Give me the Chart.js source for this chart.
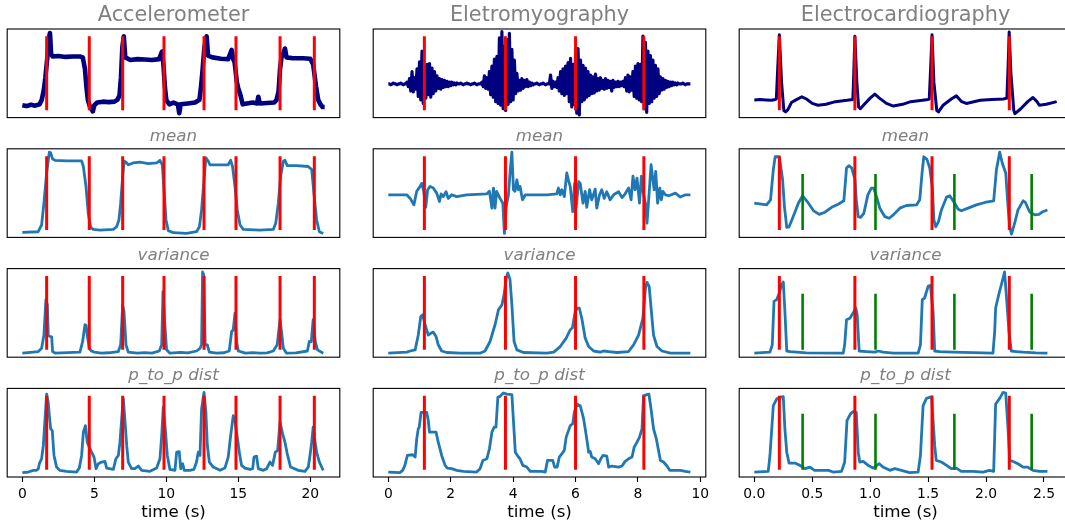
<!DOCTYPE html>
<html>
<head>
<meta charset="utf-8">
<script src="https://cdn.jsdelivr.net/npm/chart.js@4/dist/chart.umd.min.js"></script>
<style>
  html, body { margin: 0; padding: 0; background: #fff; overflow: hidden; }
  #fig { position: relative; width: 1065px; height: 524px; overflow: hidden; background: #fff; }
  #fig canvas { position: absolute; }
</style>
</head>
<body>
<div id="fig"></div>
<script>
// ---------- signals (time in s, amplitude in % of panel height) ----------

// raw accelerometer trace
const accRaw = [[0,14],[0.3,13],[0.6,14.5],[0.9,13.5],[1.2,15],[1.35,20],[1.5,32],[1.6,45],[1.75,70],[1.85,90],[1.92,95.5],[2.0,72],[2.1,69],[2.5,69.5],[3.0,68.5],[3.5,69],[4.0,69],[4.2,68],[4.35,55],[4.45,35],[4.55,20],[4.7,12],[4.9,7],[5.0,14],[5.2,17],[5.6,18],[6.0,17.5],[6.4,18],[6.6,20],[6.75,25],[6.85,45],[6.95,80],[7.05,91.7],[7.15,68],[7.5,65],[8.0,66],[8.5,65.5],[9.0,65],[9.5,66],[9.7,74.6],[9.8,60],[9.9,35],[10.0,20],[10.2,15],[10.5,17],[10.8,15],[10.9,5],[11.0,15],[11.5,16],[12.0,17],[12.3,20],[12.4,33],[12.5,50],[12.65,80],[12.8,91.7],[12.9,70],[13.2,68],[13.8,66.5],[14.3,66],[14.54,76.5],[14.65,66],[14.75,62],[14.9,40],[15.0,33],[15.16,25],[15.3,15],[15.6,16],[16.0,17],[16.3,16],[16.39,23.5],[16.5,16],[17.0,16.5],[17.5,17],[17.66,20],[17.8,30],[17.9,55],[18.0,68],[18.1,71],[18.24,78],[18.35,68],[18.8,67],[19.5,67],[20.0,66.5],[20.2,60],[20.4,35],[20.55,20],[20.7,15],[20.85,12],[21.0,12]];

// raw EMG trace, sampled every emgRawStep seconds
const emgRawStep = 0.04;
const emgRaw = [
  38,38,37,38,39,38,38,37,38,38,39,38,37,38,38,
  40,35,44,30,52,29,45,32,55,24,63,20,75,16,58,22,60,26,61,23,56,27,52,30,47,33,44,32,43,34,42,35,41,35,40,36,40,37,39,37,39,38,
  38,39,38,37,38,38,39,38,38,37,38,38,39,38,37,38,38,38,
  40,35,47,33,45,32,52,26,58,23,66,18,69,16,90,14,97,10,80,8,88,15,95,18,77,20,65,27,50,30,42,31,44,33,42,35,43,35,40,36,39,37,
  38,38,39,38,37,38,38,39,38,37,38,38,38,
  48,33,41,35,40,34,45,30,52,27,55,25,58,27,62,18,67,12,60,15,70,5,78,3,65,18,59,20,56,23,52,25,48,27,46,28,49,30,44,31,45,33,42,32,44,33,42,34,41,30,42,34,40,35,41,35,40,36,41,
  35,45,30,48,29,46,31,52,24,58,22,61,20,60,18,92,10,85,6,75,16,70,18,65,22,59,24,55,27,46,31,44,32,42,34,41,35,40,36,40,37,39,37,39,38,
  38,38,39,38,37,38,38,38,38
];

// raw ECG trace
const ecgRaw = [[0,20],[0.05,20.5],[0.1,20],[0.15,19.5],[0.18,20.5],[0.19,21],[0.2,50],[0.216,93.6],[0.235,40],[0.255,8],[0.27,6.5],[0.29,9],[0.32,17],[0.36,20],[0.41,23.5],[0.45,21],[0.5,16],[0.55,14],[0.62,15],[0.7,18],[0.8,19.5],[0.85,20.5],[0.855,35],[0.868,91.7],[0.885,40],[0.9,12],[0.915,10],[0.95,15],[1.0,22],[1.04,26.5],[1.08,22],[1.14,16],[1.2,13],[1.28,15],[1.35,18],[1.45,19.5],[1.5,20.5],[1.51,21],[1.52,50],[1.534,93.6],[1.55,40],[1.575,8],[1.59,6.4],[1.63,14],[1.7,21],[1.744,24.5],[1.79,18],[1.83,16],[1.95,19.5],[2.05,20.5],[2.15,21],[2.18,22],[2.19,55],[2.2,96.6],[2.215,50],[2.24,8],[2.25,4.5],[2.3,10],[2.36,18],[2.405,22.7],[2.44,18],[2.46,14],[2.52,15],[2.61,18]];

// features: mean
const accMean = [[0,5.7],[1.1,6.4],[1.34,14],[1.5,38.6],[1.69,72.7],[1.875,96.2],[1.97,95.5],[2.1,88.6],[2.27,87],[3.08,86.4],[4.12,86.4],[4.24,80],[4.42,57.6],[4.58,27],[4.75,11.4],[4.93,9],[5.4,8.3],[6.32,9],[6.55,12],[6.71,19.7],[6.83,38.6],[6.97,69],[7.08,86],[7.2,84.8],[7.36,82],[7.7,84],[8.17,85],[8.75,83.3],[9.33,84],[9.56,87],[9.72,82],[9.86,50],[9.98,19.7],[10.14,7.6],[10.49,5.3],[11.41,4.5],[12.1,6.4],[12.3,12],[12.45,31],[12.62,65],[12.75,89.8],[12.92,86],[13.03,82],[13.73,81.8],[14.3,82],[14.47,87],[14.6,80],[14.77,57.6],[14.93,31],[15.12,14],[15.35,9],[16.5,8.3],[17.43,9],[17.6,16],[17.78,38.6],[17.94,69],[18.13,86],[18.24,87],[18.4,81],[19.05,81],[19.86,80],[20.1,76.5],[20.25,50],[20.44,19.7],[20.63,6.4],[20.9,4.5]];
const emgMean = [[0,48.1],[0.59,48.1],[0.7,44],[0.82,36.7],[0.91,52],[1.02,57.6],[1.07,61],[1.13,53],[1.2,34],[1.26,53.8],[1.34,57.6],[1.44,55.7],[1.55,50],[1.64,40.5],[1.69,49],[1.76,46],[1.85,51.5],[1.92,44],[2.03,48.1],[2.19,46],[2.51,48.1],[3.16,49.2],[3.24,52],[3.32,33],[3.37,55.7],[3.42,33],[3.47,52],[3.58,44],[3.67,38.6],[3.72,4.5],[3.78,35],[3.85,48.1],[3.9,72.7],[3.96,96.2],[4.01,53.8],[4.06,52],[4.12,65],[4.17,53.8],[4.22,57.6],[4.3,42.4],[4.39,48.1],[5.08,48.1],[5.4,49.2],[5.45,55.7],[5.51,48.1],[5.56,53.8],[5.64,46],[5.72,72.7],[5.77,65],[5.83,57.6],[5.91,29],[5.97,61],[6.02,34],[6.1,63],[6.15,61],[6.24,38.6],[6.31,52],[6.36,34],[6.45,53.8],[6.52,42.4],[6.63,54.5],[6.68,33],[6.77,48.1],[6.84,53.8],[6.92,44],[7.0,51.5],[7.11,42.4],[7.22,48.1],[7.38,51.5],[7.49,45],[7.59,49.2],[7.7,55.7],[7.78,42.4],[7.84,69],[7.91,53.8],[7.97,67],[8.05,38.6],[8.11,69],[8.16,52],[8.24,38.6],[8.29,16],[8.35,45.5],[8.42,82],[8.48,65],[8.52,53.8],[8.57,74.6],[8.63,38.6],[8.7,55.7],[8.75,42.4],[8.8,52],[8.88,48.1],[8.99,47],[9.2,50],[9.36,45.5],[9.52,48.1],[9.68,48.1]];
const ecgMean = [[0,38.6],[0.106,36.7],[0.14,42.4],[0.164,76.5],[0.18,91],[0.216,91],[0.244,65],[0.26,34.8],[0.28,11.4],[0.3,12],[0.33,21.6],[0.38,38.6],[0.417,47],[0.457,40.5],[0.51,30.3],[0.56,26],[0.61,28.4],[0.667,34],[0.724,37.5],[0.773,41.3],[0.796,78.4],[0.816,81],[0.84,78.4],[0.868,66],[0.88,42.4],[0.897,23.5],[0.917,22.7],[0.945,27],[0.98,48],[1.01,55.7],[1.03,55.7],[1.055,46],[1.083,33],[1.126,23.5],[1.164,21.6],[1.2,25.4],[1.256,33],[1.313,36],[1.4,36.7],[1.428,42.4],[1.448,72.7],[1.463,91],[1.49,88],[1.514,78.4],[1.537,55.7],[1.55,19.7],[1.566,12],[1.59,17.8],[1.615,31],[1.66,45.5],[1.687,47],[1.72,40.5],[1.76,31.8],[1.787,30],[1.845,33],[1.917,36.7],[1.99,39.4],[2.066,41.3],[2.09,76.5],[2.118,96.2],[2.14,84],[2.17,72.7],[2.19,34.8],[2.204,12],[2.22,3.8],[2.247,16],[2.276,31],[2.32,41.3],[2.34,39.4],[2.376,29],[2.42,25.4],[2.457,26],[2.49,29],[2.53,31]];

// features: variance
const accVar = [[0,4.5],[1.11,6.4],[1.34,10],[1.5,25],[1.64,65],[1.74,59],[1.8,25],[1.92,23.4],[2.04,23],[2.1,6.4],[2.3,4.5],[4.0,5.7],[4.19,17.7],[4.35,36.6],[4.43,36],[4.51,25],[4.65,10],[4.8,7],[5.0,5.7],[5.5,4.5],[6.0,5],[6.67,6.4],[6.83,14],[6.97,59],[7.06,51.7],[7.2,14],[7.36,5.7],[8.0,4.5],[8.5,5.2],[9.0,4.5],[9.51,7],[9.68,14],[9.77,74],[9.9,36.6],[10.02,8.3],[10.25,4.5],[11.0,5.5],[11.5,4.8],[12.1,7],[12.34,10],[12.45,14],[12.52,96.2],[12.6,93],[12.7,14],[12.85,14],[12.99,5.7],[13.5,4.5],[14.0,5],[14.37,7],[14.54,29],[14.65,31],[14.77,49.8],[14.88,17.7],[15.0,7],[15.5,4.5],[16.0,5.2],[16.5,4.5],[17.0,4.8],[17.43,7],[17.7,14],[17.9,42.3],[18.0,29],[18.13,10],[18.35,4.5],[19.0,4.8],[19.8,7],[19.93,17.7],[20.07,17.7],[20.2,42.3],[20.35,17.7],[20.5,8.3],[20.9,4.5]];
const emgVar = [[0,4.5],[0.59,5.7],[0.7,7],[0.86,8.3],[0.96,25],[1.04,46],[1.1,47.9],[1.18,36.6],[1.28,25],[1.36,27],[1.44,28.3],[1.53,23.4],[1.6,14],[1.71,7],[1.87,5.3],[2.3,4.5],[2.94,4.5],[3.1,7],[3.26,17.7],[3.42,36.6],[3.53,53.6],[3.64,59],[3.71,70.6],[3.78,89.4],[3.83,95],[3.9,87.5],[3.96,59],[4.03,17.7],[4.12,8.3],[4.33,5.3],[5.08,4.5],[5.3,5.7],[5.51,12],[5.7,21.5],[5.83,31],[5.9,33],[5.99,51.7],[6.06,55.5],[6.12,55.5],[6.2,44],[6.31,21.5],[6.42,12],[6.58,7],[6.79,5.7],[6.9,7],[7.06,6.4],[7.33,5.3],[7.7,6.4],[7.86,14],[8.02,25],[8.16,44],[8.24,78],[8.29,84.5],[8.36,80],[8.43,51.7],[8.5,25],[8.61,12],[8.77,7],[9.04,4.5],[9.68,4.5]];
const ecgVar = [[0,4.5],[0.135,5.7],[0.155,14],[0.17,63],[0.193,65],[0.216,72.5],[0.236,81.9],[0.25,85],[0.264,51.7],[0.28,7],[0.31,6.4],[0.45,4.9],[0.767,4.5],[0.78,14],[0.796,42.3],[0.825,44],[0.853,49.8],[0.876,55.5],[0.888,47.9],[0.905,7],[0.968,6.4],[1.04,5.7],[1.07,7],[1.11,5.7],[1.2,4.5],[1.414,4.5],[1.434,14],[1.45,65],[1.47,66.8],[1.5,80],[1.52,81.1],[1.543,51.7],[1.557,7],[1.6,6.4],[1.716,5.7],[2.06,4.5],[2.075,29],[2.083,55.5],[2.11,70.6],[2.14,85.7],[2.16,96.2],[2.175,70.6],[2.198,29],[2.218,7],[2.26,6.4],[2.32,5.7],[2.43,4.9],[2.53,4.5]];

// features: peak-to-peak distance
const accP2p = [[0,4.9],[0.42,5.6],[0.76,7.5],[0.99,7.5],[1.11,9.4],[1.18,15],[1.34,20.6],[1.46,35.6],[1.57,63.7],[1.69,93.6],[1.8,84],[1.875,69.3],[1.97,54.3],[2.08,52.4],[2.2,24.3],[2.38,11.2],[2.6,7.5],[3.08,6.4],[3.77,5.6],[3.96,10.1],[4.12,24.3],[4.24,50.6],[4.38,58],[4.51,39.3],[4.65,33.7],[4.81,28],[4.98,22.5],[5.12,9.4],[5.28,15],[5.51,16.9],[5.74,17.6],[5.86,10.1],[6.32,8.6],[6.5,20.6],[6.67,24.3],[6.78,39.3],[6.9,65.5],[7.01,88.8],[7.13,63.7],[7.25,35.6],[7.36,16.9],[7.59,9.4],[7.82,9.4],[8.06,12.4],[8.29,7.5],[8.87,6.4],[9.33,10.1],[9.56,20.6],[9.68,46.8],[9.79,78.7],[9.93,54.3],[10.07,24.3],[10.25,8.6],[10.6,7.5],[10.72,28],[10.9,28.5],[11.0,9.4],[11.13,15],[11.25,7.5],[11.64,7.5],[11.92,8.6],[12.1,16.9],[12.22,28],[12.34,24.3],[12.45,76.8],[12.62,95.5],[12.75,73],[12.85,35.6],[12.99,16.9],[13.26,11.2],[13.73,7.5],[14.07,10.1],[14.3,22.5],[14.47,46.8],[14.65,69.3],[14.77,63.7],[14.93,45],[15.07,28],[15.23,13.1],[15.46,10.1],[15.81,8.6],[16.0,9.4],[16.09,22.5],[16.27,23.6],[16.39,9.4],[16.74,7.5],[16.97,9.4],[17.2,16.9],[17.38,13.1],[17.57,28],[17.73,29.9],[17.9,61.8],[18.08,48.7],[18.24,39.3],[18.4,26.2],[18.63,11.2],[19.17,7.5],[19.63,6.4],[19.86,11.2],[19.98,24.3],[20.1,39.3],[20.2,56.2],[20.32,41.2],[20.44,28],[20.63,16.9],[20.9,7.5]];
const emgP2p = [[0,5.6],[0.37,4.9],[0.46,7.5],[0.53,13.1],[0.61,24.3],[0.78,25.1],[0.86,22.5],[0.91,43],[0.96,54.3],[0.99,56.2],[1.05,73],[1.23,73],[1.28,63.7],[1.32,50.6],[1.53,50.6],[1.6,39.3],[1.71,24.3],[1.82,13.1],[1.89,10.1],[2.03,9.4],[2.19,7.5],[2.41,6.4],[2.83,5.6],[2.94,9.4],[3.03,18.7],[3.16,20.6],[3.24,31.8],[3.32,50.6],[3.39,56.2],[3.45,56.2],[3.51,89.9],[3.58,91],[3.69,94.8],[3.8,93.6],[3.96,92.9],[4.01,63.7],[4.07,28],[4.17,22.5],[4.22,20.6],[4.31,13.1],[4.44,11.2],[4.55,6.4],[4.92,6.4],[5.03,5.6],[5.1,18.7],[5.27,18.7],[5.33,11.2],[5.41,11.2],[5.48,22.5],[5.56,26.2],[5.64,30],[5.7,45],[5.83,58],[5.91,59.9],[5.96,73],[6.04,82.4],[6.15,80.5],[6.26,65.5],[6.36,43],[6.42,28],[6.47,28.8],[6.52,22.5],[6.63,20.6],[6.74,15],[6.81,20.6],[6.88,24.3],[7.0,23.6],[7.06,11.2],[7.17,12.4],[7.38,11.2],[7.49,12.4],[7.59,17.6],[7.7,20.6],[7.81,22.5],[7.88,33.7],[7.97,39.3],[8.05,45],[8.13,54.3],[8.18,91.8],[8.35,93.6],[8.42,76.8],[8.5,54.3],[8.59,43],[8.66,30],[8.72,18.7],[8.82,16.9],[8.93,12.4],[9.02,7.5],[9.36,7.5],[9.52,6.4],[9.68,5.6]];
const ecgP2p = [[0,5.6],[0.12,6.4],[0.135,24.3],[0.164,80.5],[0.193,88],[0.22,89.9],[0.25,90.6],[0.264,54.3],[0.28,28],[0.3,15.7],[0.35,15.7],[0.394,13.1],[0.437,9.4],[0.48,11.2],[0.52,7.5],[0.595,7.5],[0.64,7.5],[0.68,5.6],[0.753,6.4],[0.78,16.9],[0.8,63.7],[0.83,71.2],[0.853,73.8],[0.88,73],[0.897,28],[0.91,16.9],[0.94,17.6],[0.983,13.1],[1.026,10.1],[1.078,15],[1.11,11.2],[1.17,7.5],[1.213,9.4],[1.27,7.5],[1.34,4.9],[1.414,5.6],[1.434,24.3],[1.457,80.5],[1.486,88.8],[1.53,90.6],[1.557,35.6],[1.57,18.7],[1.615,16.9],[1.66,13.1],[1.7,9.4],[1.744,10.1],[1.787,6.4],[1.89,6.4],[1.974,5.6],[2.03,7.5],[2.066,6.4],[2.083,82.4],[2.118,88.8],[2.147,95.5],[2.17,94.8],[2.19,54.3],[2.204,18.7],[2.233,17.6],[2.276,15],[2.32,11.2],[2.36,11.2],[2.405,7.5],[2.46,6.4],[2.53,6.4]];

// detected events (s)
const accEvents = [1.69, 4.65, 6.97, 9.84, 12.62, 14.84, 17.9, 20.28];
const emgEvents = [1.155, 3.754, 6.0, 8.19];
const ecgEvents = [0.216, 0.868, 1.534, 2.201];
const ecgWaveEvents = [0.417, 1.046, 1.727, 2.394];
const eventLow = 8.3, eventHigh = 91.7, waveHigh = 71.5;

// axis ticks
const accTicks = [0, 5, 10, 15, 20];
const accTickLabels = ['0', '5', '10', '15', '20'];
const emgTicks = [0, 2, 4, 6, 8, 10];
const emgTickLabels = ['0', '2', '4', '6', '8', '10'];
const ecgTicks = [0, 0.5, 1, 1.5, 2, 2.5];
const ecgTickLabels = ['0.0', '0.5', '1.0', '1.5', '2.0', '2.5'];

const columnTitles = ['Accelerometer', 'Eletromyography', 'Electrocardiography'];
const rowTitles = ['mean', 'variance', 'p_to_p dist'];

// ---------- layout ----------
const COL_LEFT = [7.2, 373.2, 739.2];
const BOX_W = 332.6;
const ROW_TOP = [29.0, 148.8, 268.6, 388.4];
const BOX_H = 88.6;
const X_RANGE = [[-1.05, 22.05], [-0.4845, 10.1745], [-0.1305, 2.7405]];
const PAD_X = 20, PAD_TOP = 29, PAD_BOT = 6, AXIS_H = 46;

const NAVY = '#000080', BLUE = '#1f77b4', RED = '#ff0000', GREEN = '#008000', GRAY = '#808080';
Chart.defaults.font.family = '"DejaVu Sans", sans-serif';

function pts(pairs) { return pairs.map(p => ({ x: p[0], y: p[1] })); }
function sampled(vals, step) { return vals.map((v, i) => ({ x: Math.round(i * step * 1000) / 1000, y: v })); }
function vlines(ts, lo, hi) {
  const out = [];
  ts.forEach(t => { out.push({ x: t, y: lo }, { x: t, y: hi }, { x: t, y: null }); });
  return out;
}

const framePlugin = {
  id: 'frame',
  afterDraw(chart) {
    const { ctx, chartArea: a } = chart;
    ctx.save();
    ctx.strokeStyle = '#000';
    ctx.lineWidth = 1.1;
    ctx.strokeRect(a.left, a.top, a.right - a.left, a.bottom - a.top);
    ctx.restore();
  }
};
const panelTitlePlugin = {
  id: 'panelTitle',
  afterDraw(chart, args, opts) {
    const { ctx, chartArea: a } = chart;
    ctx.save();
    ctx.font = opts.font;
    ctx.fillStyle = opts.color;
    ctx.textAlign = 'center';
    ctx.textBaseline = 'alphabetic';
    ctx.fillText(opts.text, (a.left + a.right) / 2, a.top - opts.gap);
    ctx.restore();
  }
};

const fig = document.getElementById('fig');

function panel(row, col, signal, signalStyle, events, waves, ticks, tickLabels) {
  const left = COL_LEFT[col], top = ROW_TOP[row];
  const isBottom = row === 3;
  const cl = Math.floor(left - PAD_X), ct = Math.max(0, Math.floor(top - PAD_TOP));
  const cw = Math.ceil(left + BOX_W + PAD_X) - cl;
  const ch = Math.ceil(top + BOX_H + (isBottom ? AXIS_H : 0) + PAD_BOT) - ct;
  const canvas = document.createElement('canvas');
  canvas.width = cw; canvas.height = ch;
  canvas.style.left = cl + 'px'; canvas.style.top = ct + 'px';
  canvas.style.width = cw + 'px'; canvas.style.height = ch + 'px';
  fig.appendChild(canvas);

  const padLeft = left - cl, padTop = top - ct;
  const padRight = cw - padLeft - BOX_W;
  const padBottom = ch - padTop - BOX_H - (isBottom ? AXIS_H : 0);

  const datasets = [];
  datasets.push({ data: vlines(events, eventLow, eventHigh), borderColor: RED, borderWidth: 3, spanGaps: false });
  if (waves) datasets.push({ data: vlines(waves, eventLow, waveHigh), borderColor: GREEN, borderWidth: 2.6, spanGaps: false });
  datasets.push(Object.assign({ data: signal }, signalStyle));

  const xScale = {
    type: 'linear', min: X_RANGE[col][0], max: X_RANGE[col][1], display: isBottom
  };
  if (isBottom) {
    Object.assign(xScale, {
      afterBuildTicks: s => { s.ticks = ticks.map(v => ({ value: v })); },
      afterFit: s => { s.height = AXIS_H; },
      grid: { display: true, drawOnChartArea: false, drawTicks: true, tickLength: 5, tickWidth: 1.1, tickColor: '#000' },
      border: { display: false },
      ticks: { color: '#000', font: { size: 13.9 }, padding: 4, maxRotation: 0, autoSkip: false,
               callback: (v, i) => tickLabels[i] },
      title: { display: true, text: 'time (s)', color: '#000', font: { size: 16.7 }, padding: 0 }
    });
  }

  const title = row === 0
    ? { text: columnTitles[col], font: '20.8px "DejaVu Sans"', color: GRAY, gap: 8.3 }
    : { text: rowTitles[row - 1], font: 'italic 16.7px "DejaVu Sans"', color: GRAY, gap: 8.3 };

  new Chart(canvas, {
    type: 'line',
    data: { datasets },
    options: {
      responsive: false, animation: false, devicePixelRatio: 1,
      layout: { padding: { left: padLeft, right: padRight, top: padTop, bottom: padBottom } },
      elements: { point: { radius: 0 }, line: { tension: 0, borderCapStyle: 'butt', borderJoinStyle: 'round' } },
      plugins: { legend: { display: false }, tooltip: { enabled: false }, panelTitle: title },
      scales: { x: xScale, y: { display: false, min: 0, max: 100 } }
    },
    plugins: [framePlugin, panelTitlePlugin]
  });
}

const rawStyle = w => ({ borderColor: NAVY, borderWidth: w });
const featStyle = { borderColor: BLUE, borderWidth: 2.8 };

// raw signals
panel(0, 0, pts(accRaw), rawStyle(4.6), accEvents, null);
panel(0, 1, sampled(emgRaw, emgRawStep), rawStyle(3.2), emgEvents, null);
panel(0, 2, pts(ecgRaw), rawStyle(3), ecgEvents, null);
// mean
panel(1, 0, pts(accMean), featStyle, accEvents, null);
panel(1, 1, pts(emgMean), featStyle, emgEvents, null);
panel(1, 2, pts(ecgMean), featStyle, ecgEvents, ecgWaveEvents);
// variance
panel(2, 0, pts(accVar), featStyle, accEvents, null);
panel(2, 1, pts(emgVar), featStyle, emgEvents, null);
panel(2, 2, pts(ecgVar), featStyle, ecgEvents, ecgWaveEvents);
// peak-to-peak distance
panel(3, 0, pts(accP2p), featStyle, accEvents, null, accTicks, accTickLabels);
panel(3, 1, pts(emgP2p), featStyle, emgEvents, null, emgTicks, emgTickLabels);
panel(3, 2, pts(ecgP2p), featStyle, ecgEvents, ecgWaveEvents, ecgTicks, ecgTickLabels);
</script>
</body>
</html>
